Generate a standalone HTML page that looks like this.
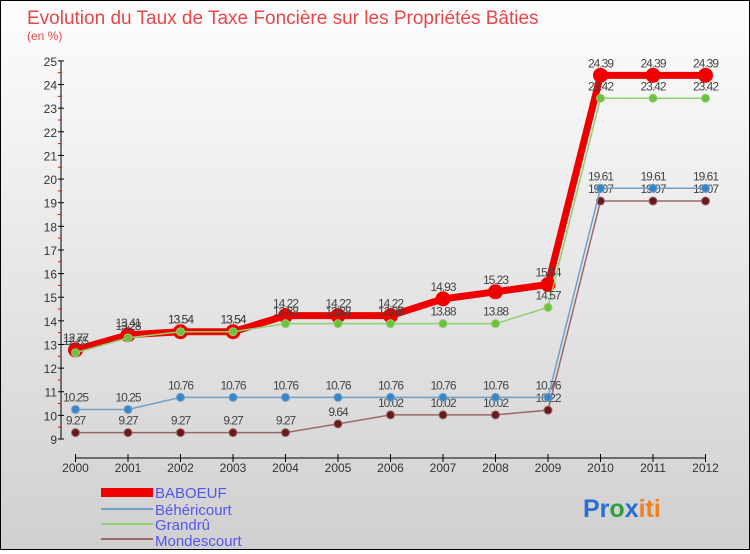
<!DOCTYPE html>
<html><head><meta charset="utf-8"><style>
body{margin:0;width:750px;height:550px;overflow:hidden;font-family:"Liberation Sans",sans-serif}
#wrap{position:relative;width:748px;height:548px;border:1px solid #000;background:linear-gradient(#fdfdfd,#d0d0d0)}
</style></head><body>
<div id="wrap">
<svg id="c" width="748" height="548" xmlns="http://www.w3.org/2000/svg">
<text x="26" y="23" font-size="19" fill="#e8474a">Evolution du Taux de Taxe Foncière sur les Propriétés Bâties</text>
<text x="26" y="39" font-size="12" fill="#e8474a">(en %)</text>
<g id="axes"></g><g id="series"></g>
<g>
<rect x="100" y="487" width="52" height="9" fill="#e00"/>
<text x="154" y="497" font-size="15" fill="#5555ee">BABOEUF</text>
<line x1="100" y1="508" x2="152" y2="508" stroke="#6fa0c8" stroke-width="2"/>
<text x="154" y="514" font-size="15" fill="#5555ee">Béhéricourt</text>
<line x1="100" y1="523" x2="152" y2="523" stroke="#8fd070" stroke-width="2"/>
<text x="154" y="529" font-size="15" fill="#5555ee">Grandrû</text>
<line x1="100" y1="538" x2="152" y2="538" stroke="#9a6a6a" stroke-width="2"/>
<text x="154" y="545" font-size="15" fill="#5555ee">Mondescourt</text>
</g>
<text x="582" y="516" font-size="25" font-weight="bold"><tspan fill="#2a6fd0">Pr</tspan><tspan fill="#2aa040">o</tspan><tspan fill="#2a6fd0">x</tspan><tspan fill="#f08020">iti</tspan></text>
</svg></div>
<script>
const years=[2000,2001,2002,2003,2004,2005,2006,2007,2008,2009,2010,2011,2012];
const baboeuf=[12.77,13.41,13.54,13.54,14.22,14.22,14.22,14.93,15.23,15.54,24.39,24.39,24.39];
const behericourt=[10.25,10.25,10.76,10.76,10.76,10.76,10.76,10.76,10.76,10.76,19.61,19.61,19.61];
const grandru=[12.65,13.28,13.54,13.54,13.88,13.88,13.88,13.88,13.88,14.57,23.42,23.42,23.42];
const mondescourt=[9.27,9.27,9.27,9.27,9.27,9.64,10.02,10.02,10.02,10.22,19.07,19.07,19.07];
const yTicks=[9,10,11,12,13,14,15,16,17,18,19,20,21,22,23,24,25];
const NS="http://www.w3.org/2000/svg";
const X=i=>74.5+i*52.5, Y=v=>438-(v-9)*23.63;
function mk(t,a,p){const e=document.createElementNS(NS,t);for(const k in a)e.setAttribute(k,a[k]);p.appendChild(e);return e;}
const ax=document.getElementById('axes');
mk('line',{x1:60,y1:Y(25),x2:60,y2:Y(9),stroke:'#000'},ax);
mk('line',{x1:X(0),y1:457,x2:X(12),y2:457,stroke:'#000'},ax);
yTicks.forEach(v=>{mk('line',{x1:57,y1:Y(v),x2:63,y2:Y(v),stroke:'#000'},ax);
 if(v<25)mk('line',{x1:57,y1:Y(v+0.5),x2:60,y2:Y(v+0.5),stroke:'#e00'},ax);
 const t=mk('text',{x:56,y:Y(v)+5,'font-size':12,fill:'#333','text-anchor':'end'},ax);t.textContent=v;
 
 });
years.forEach((y,i)=>{mk('line',{x1:X(i),y1:453,x2:X(i),y2:461,stroke:'#000'},ax);
 const t=mk('text',{x:X(i),y:471,'font-size':12,fill:'#333','text-anchor':'middle'},ax);t.textContent=y;
 
 });
const sg=document.getElementById('series');
function series(d,name,col,w,r,dot){
 const g=mk('g',{},sg);
 
 
 mk('polyline',{points:d.map((v,i)=>X(i)+','+Y(v)).join(' '),fill:'none',stroke:col,'stroke-width':w},g);
 d.forEach((v,i)=>{const c=mk('circle',{cx:X(i),cy:Y(v),r:r,fill:dot,stroke:col,'stroke-width':1},g);
  
  
  const t=mk('text',{x:X(i),y:Y(v)-8,'font-size':12,fill:'#444','text-anchor':'middle','letter-spacing':'-1'},g);t.textContent=v.toFixed(2);
  
  });
}
series(mondescourt,'mondescourt','#9a6a6a',1.5,4,'#6a1a1a');
series(behericourt,'behericourt','#6fa0c8',1.5,4,'#3a85c5');
series(baboeuf,'baboeuf','#ee0000',7,7,'#ee0000');
series(grandru,'grandru','#8fd070',1.5,4,'#70c040');
</script>
</body></html>
